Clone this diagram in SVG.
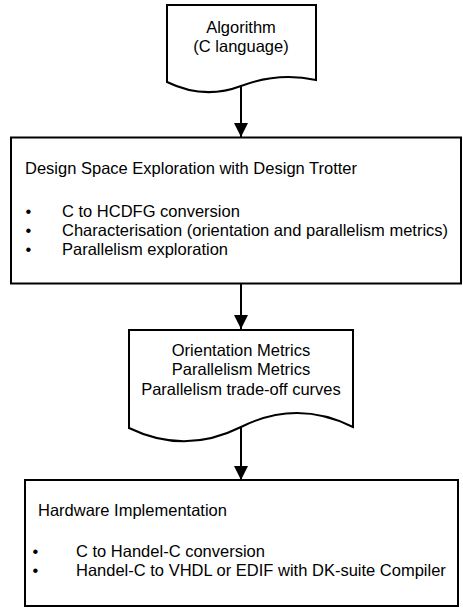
<svg xmlns="http://www.w3.org/2000/svg" width="463" height="608" viewBox="0 0 463 608">
<style>
.shape{fill:#fff;stroke:#000;stroke-width:2;stroke-linejoin:miter}
.t{font-family:"Liberation Sans",Arial,sans-serif;font-size:16.5px;fill:#000}
.c{text-anchor:middle}
.b{text-anchor:middle}
.conn{stroke:#000;stroke-width:2;fill:none}
</style>
<defs>
<marker id="ah" markerUnits="userSpaceOnUse" markerWidth="14" markerHeight="14" refX="14" refY="7" orient="auto">
<path d="M0,0 L14,7 L0,14 z" fill="#000"/>
</marker>
</defs>
<rect width="463" height="608" fill="#fff"/>
<g id="connectors">
<line class="conn" x1="241" y1="86" x2="241" y2="137" marker-end="url(#ah)"/>
<line class="conn" x1="241" y1="284" x2="241" y2="329" marker-end="url(#ah)"/>
<line class="conn" x1="241" y1="427" x2="241" y2="480" marker-end="url(#ah)"/>
</g>
<g id="algorithm">
<path class="shape" d="M167,5 H316 V80 Q278,72 241,86 Q204,100 167,82 Z"/>
<text class="t c" x="241" y="33">Algorithm</text>
<text class="t c" x="241" y="52">(C language)</text>
</g>
<g id="dse">
<rect class="shape" x="11" y="137.5" width="450" height="146"/>
<text class="t" x="25" y="174">Design Space Exploration with Design Trotter</text>
<text class="t b" x="28.5" y="217">•</text>
<text class="t b" x="28.5" y="236">•</text>
<text class="t b" x="28.5" y="255">•</text>
<text class="t" x="62" y="217">C to HCDFG conversion</text>
<text class="t" x="62" y="236">Characterisation (orientation and parallelism metrics)</text>
<text class="t" x="62" y="255">Parallelism exploration</text>
</g>
<g id="metrics">
<path class="shape" d="M129,330 H353 V427 Q297,399 241,427 Q185,455 129,428 Z"/>
<text class="t c" x="241" y="355.5">Orientation Metrics</text>
<text class="t c" x="241" y="375">Parallelism Metrics</text>
<text class="t c" x="241" y="394.5">Parallelism trade-off curves</text>
</g>
<g id="hw">
<rect class="shape" x="25" y="480" width="433" height="126"/>
<text class="t" x="38" y="516">Hardware Implementation</text>
<text class="t b" x="35.5" y="557">•</text>
<text class="t b" x="35.5" y="576">•</text>
<text class="t" x="76" y="557">C to Handel-C conversion</text>
<text class="t" x="76" y="576">Handel-C to VHDL or EDIF with DK-suite Compiler</text>
</g>
</svg>
